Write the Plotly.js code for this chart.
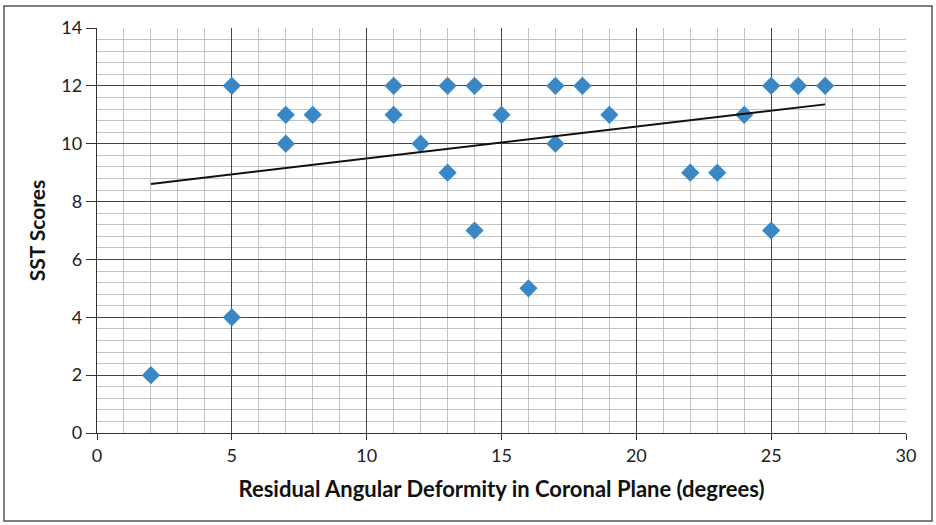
<!DOCTYPE html>
<html>
<head>
<meta charset="utf-8">
<script src="https://cdn.plot.ly/plotly-3.0.1.min.js"></script>
<style>html,body{margin:0;padding:0;background:#fff;}#chart{width:936px;height:525px;}</style>
</head>
<body>
<div id="chart"></div>
<script>
// Residual angular deformity (degrees) vs SST scores
const deformity = [2, 5, 5, 7, 7, 8, 11, 11, 12, 13, 13, 14, 14, 15, 16, 17, 17, 18, 19, 22, 23, 24, 25, 25, 26, 27];
const sstScores = [2, 12, 4, 11, 10, 11, 12, 11, 10, 12, 9, 12, 7, 11, 5, 12, 10, 12, 11, 9, 9, 11, 12, 7, 12, 12];
// Linear trendline
const trendX = [2, 27];
const trendY = [8.61, 11.36];

const xTitle = 'Residual Angular Deformity in Coronal Plane (degrees)';
const yTitle = 'SST Scores';

const font = 'Lato, "Open Sans", "Liberation Sans", sans-serif';

const traces = [
  {
    x: deformity, y: sstScores, type: 'scatter', mode: 'markers',
    marker: {symbol: 'diamond', size: 14, color: '#3a87c6', line: {width: 0}},
    hoverinfo: 'x+y', showlegend: false
  },
  {
    x: trendX, y: trendY, type: 'scatter', mode: 'lines',
    line: {color: '#111111', width: 2}, showlegend: false
  }
];

const layout = {
  width: 936, height: 525,
  margin: {l: 97, r: 30, t: 28, b: 92},
  paper_bgcolor: '#ffffff', plot_bgcolor: '#ffffff',
  font: {family: font, color: '#222'},
  showlegend: false,
  xaxis: {
    range: [0, 30], dtick: 5, tick0: 0,
    showgrid: true, gridcolor: '#444444', gridwidth: 1,
    minor: {dtick: 1, showgrid: true, gridcolor: '#c4c4c4', gridwidth: 1},
    zeroline: false, showline: true, linecolor: '#333', linewidth: 1.3,
    ticks: 'outside', ticklen: 6, tickcolor: '#333',
    tickfont: {size: 18, color: '#222', family: font},
    title: {text: xTitle, font: {size: 22, color: '#111', family: font, weight: 'bold'}, standoff: 16},
    mirror: false, fixedrange: true
  },
  yaxis: {
    range: [0, 14], dtick: 2, tick0: 0,
    showgrid: true, gridcolor: '#444444', gridwidth: 1,
    minor: {dtick: 0.4, showgrid: true, gridcolor: '#c4c4c4', gridwidth: 1},
    zeroline: false, showline: true, linecolor: '#333', linewidth: 1.3,
    ticks: 'outside', ticklen: 10, tickcolor: '#333',
    tickfont: {size: 18, color: '#222', family: font},
    title: {text: yTitle, font: {size: 21, color: '#111', family: font, weight: 'bold'}, standoff: 10},
    fixedrange: true
  },
  shapes: [
    {type: 'rect', xref: 'paper', yref: 'paper',
     x0: -93/809, x1: 1 + 26/809, y0: -88/405, y1: 1 + 22/405,
     line: {color: '#555', width: 1.5}, fillcolor: 'rgba(0,0,0,0)', layer: 'below'}
  ]
};

Plotly.newPlot('chart', traces, layout, {displayModeBar: false, staticPlot: true});
</script>
</body>
</html>
